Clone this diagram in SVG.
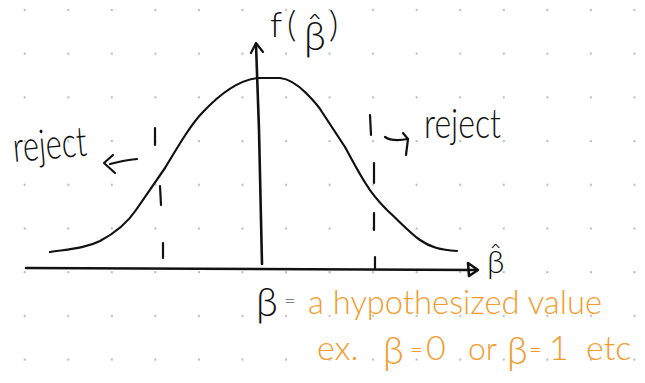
<svg xmlns="http://www.w3.org/2000/svg" width="645" height="383" viewBox="0 0 645 383">
  <style>
    .ink { fill: none; stroke: #111; stroke-width: 2.2; stroke-linecap: round; stroke-linejoin: round; }
    .axis { stroke-width: 2.6; }
    .txt { font-family: "Lato", "Liberation Sans", "DejaVu Sans", sans-serif; font-weight: 300; fill: #111; }
    .orange { font-family: "Lato", "Liberation Sans", "DejaVu Sans", sans-serif; font-weight: 300; fill: #F49B2C; }
  </style>
  <defs>
    <pattern id="dots" patternUnits="userSpaceOnUse" x="3" y="-12" width="43.55" height="43.7">
      <rect x="20.7" y="21" width="2" height="2" fill="#b8b8b8"/>
    </pattern>
  </defs>
  <rect width="645" height="383" fill="#ffffff"/>
  <rect width="645" height="383" fill="url(#dots)"/>

  <g id="connectors">
    <g id="x-axis">
      <path class="ink axis" d="M26,268 L476,270"/>
      <path class="ink axis" d="M468,263 L478,270 L469,276 Z" fill="#111"/>
    </g>
    <g id="y-axis">
      <path class="ink axis" d="M262,264 L259,130 L256,44"/>
      <path class="ink" d="M251,53 L256,43 L263,52"/>
    </g>
    <g id="reject-left-arrow">
      <path class="ink" d="M137,159 Q125,160 110,164"/>
      <path class="ink" d="M113,155 L104,163 L115,173"/>
    </g>
    <g id="reject-right-arrow">
      <path class="ink" d="M385,137 Q392,142 408,139"/>
      <path class="ink" d="M403,133 L408,139 L406,155"/>
    </g>
  </g>

  <g id="curve">
    <path class="ink" d="M50,252 C70,249 86,248 100,241 C115,233 128,222 136,210 L165,168 C180,143 192,123 203,112 C218,96 238,80 258,78 L280,78 C290,79 300,87 306,93 C312,99 318,105 322,112 L345,147 C352,160 360,175 366,184 C372,194 380,203 387,210 C398,220 410,233 420,240 C430,247 440,250 457,251"/>
  </g>

  <g id="critical-left">
    <path class="ink" d="M155,128 L155,145 M160,186 L161,205 M163,243 L163,258"/>
  </g>
  <g id="critical-right">
    <path class="ink" d="M370,115 L371,135 M374,163 L374,183 M374,213 L374,230 M375,257 L375,268"/>
  </g>

  <g id="label-f">
    <text class="txt" font-size="36"><tspan x="270" y="37">f</tspan><tspan x="287" y="37">(</tspan><tspan x="304" y="50" font-size="40">β̂</tspan><tspan x="329" y="37">)</tspan></text>
  </g>
  <g id="label-betahat">
    <text class="txt" x="487" y="273" font-size="32">β̂</text>
  </g>
  <g id="reject-left">
    <text class="txt" x="14" y="162" font-size="42" textLength="74" lengthAdjust="spacingAndGlyphs" transform="rotate(-5 14 162)">reject</text>
  </g>
  <g id="reject-right">
    <text class="txt" x="424" y="138" font-size="42" textLength="77" lengthAdjust="spacingAndGlyphs">reject</text>
  </g>

  <g id="note">
    <text class="txt" x="256" y="316" font-size="40">β</text>
    <text class="txt" x="284" y="308" font-size="20">=</text>
    <text class="orange" x="308" y="314" font-size="34" textLength="294" lengthAdjust="spacingAndGlyphs">a hypothesized value</text>
    <text class="orange" y="360" font-size="34"><tspan x="317">ex.</tspan><tspan x="383" y="364" font-size="38">β</tspan><tspan x="410" y="357" font-size="22">=</tspan><tspan x="426" y="360">0</tspan><tspan x="468" font-size="32">or</tspan><tspan x="507" y="364" font-size="38">β</tspan><tspan x="529" y="357" font-size="22">=</tspan><tspan x="549" y="360">1</tspan><tspan x="586">etc</tspan></text>
  </g>
</svg>
